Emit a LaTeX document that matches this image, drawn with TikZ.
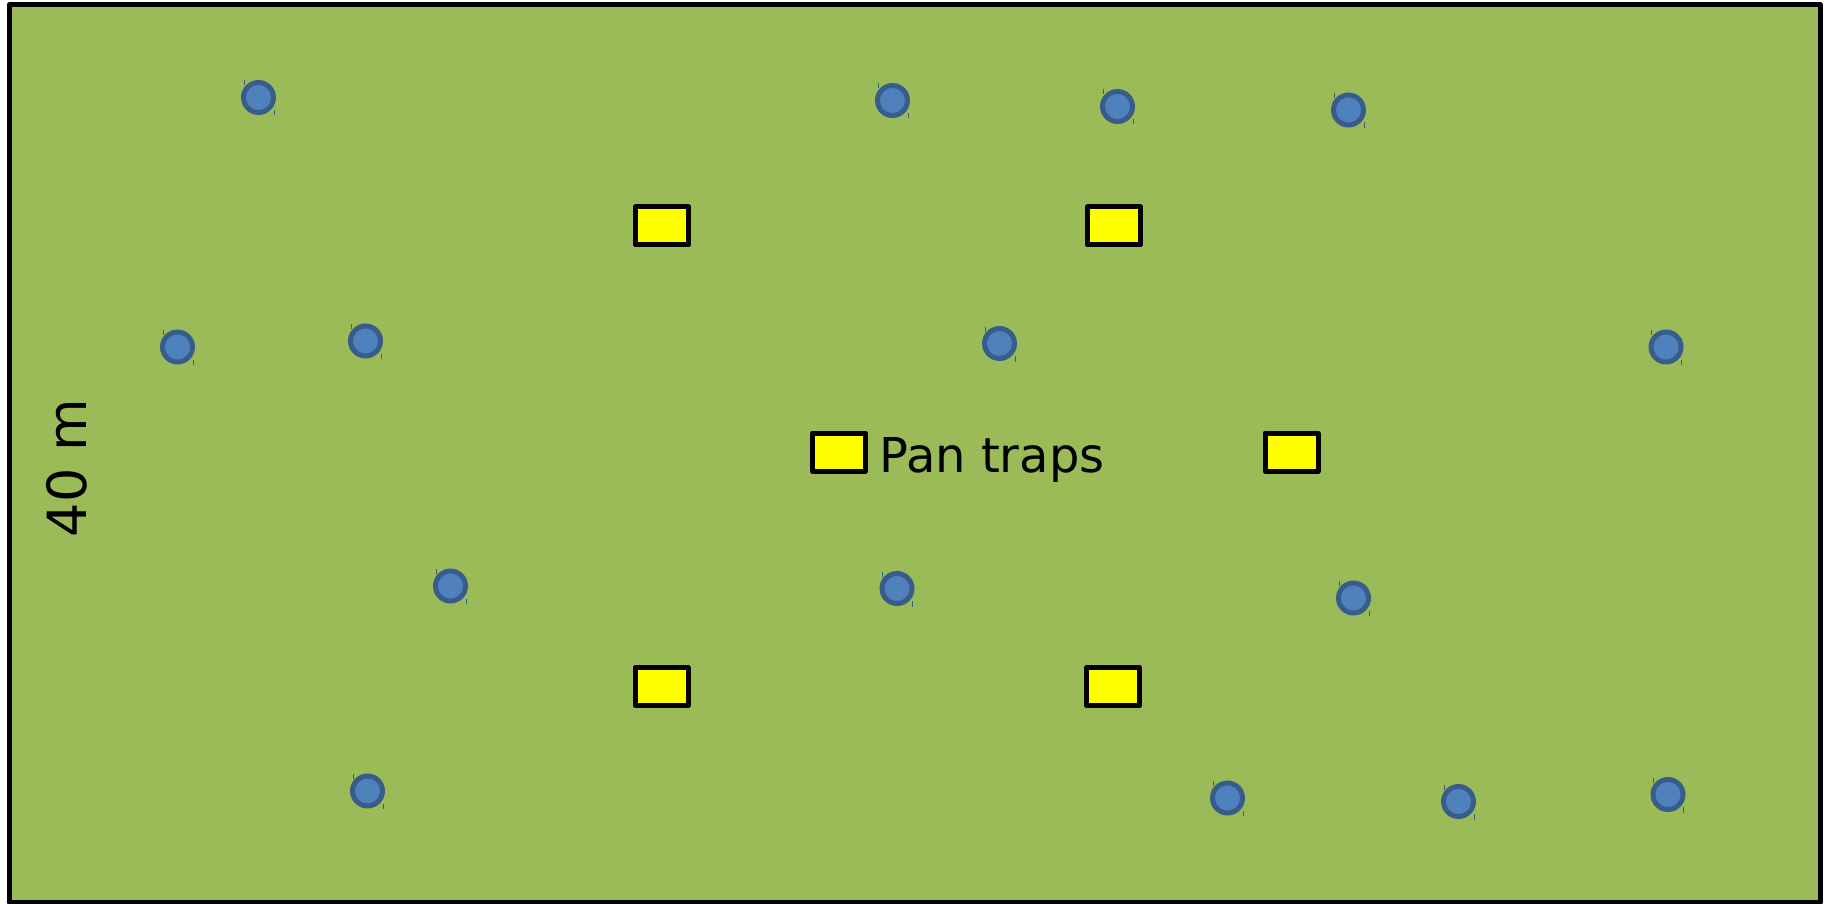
\documentclass[tikz,border=0pt]{standalone}
\usepackage{fontspec}
\setmainfont{DejaVu Sans}
\usetikzlibrary{positioning}

\definecolor{meadow}{HTML}{9BBB59}
\definecolor{flowerfill}{HTML}{4F81BD}
\definecolor{flowerline}{HTML}{385D8A}
\definecolor{trapyellow}{HTML}{FFFF00}

\begin{document}
\begin{tikzpicture}[
    x=1pt, y=-1pt,
    flower/.style={circle, draw=flowerline, fill=flowerfill, line width=5pt, minimum size=30pt, inner sep=0pt},
    tick/.style={draw=flowerline, line width=1pt},
    pantrap/.style={rectangle, draw=black, fill=trapyellow, line width=5pt, line join=round, minimum width=53pt, minimum height=38pt, inner sep=0pt},
    every node/.style={text=black}
]
    \useasboundingbox (0,0) rectangle (1829,904);

    % plot
    \draw[fill=meadow, line width=5pt, line join=round] (9.5,4.5) rectangle (1820,902);

    % flowering plants
    \foreach \i/\x/\y in {1/258.5/97.5, 2/892.5/100.5, 3/1117.5/106.5, 4/1348.5/110,
                          5/177.5/347, 6/365.5/341, 7/999.5/343.5, 8/1666/347,
                          9/450.5/586, 10/897/588.5, 11/1353.5/598,
                          12/367.5/791, 13/1227.5/798, 14/1458.5/801.5, 15/1668/794.5} {
        \node[flower] (f\i) at (\x,\y) {};
        \draw[tick] ([shift={(-14.5,-17)}]f\i.center) -- ++(0,5);
        \draw[tick] ([shift={(15.5,12.5)}]f\i.center) -- ++(0,5.5);
    }

    % pan traps
    \node[pantrap] (tA) at (662,226) {};
    \node[pantrap] (tB) at (1114,226) {};
    \node[pantrap] (tC) at (839,452) {};
    \node[pantrap] (tD) at (1291.5,452) {};
    \node[pantrap] (tE) at (661.5,686.5) {};
    \node[pantrap] (tF) at (1113,686.5) {};

    \node[anchor=base west, inner sep=0pt, font=\fontsize{48}{58}\selectfont] (lbl) at (879,472.5) {Pan traps};
    \node[rotate=90, inner sep=0pt, font=\fontsize{54}{64}\selectfont] (side) at (67,468) {40 m};
\end{tikzpicture}
\end{document}
